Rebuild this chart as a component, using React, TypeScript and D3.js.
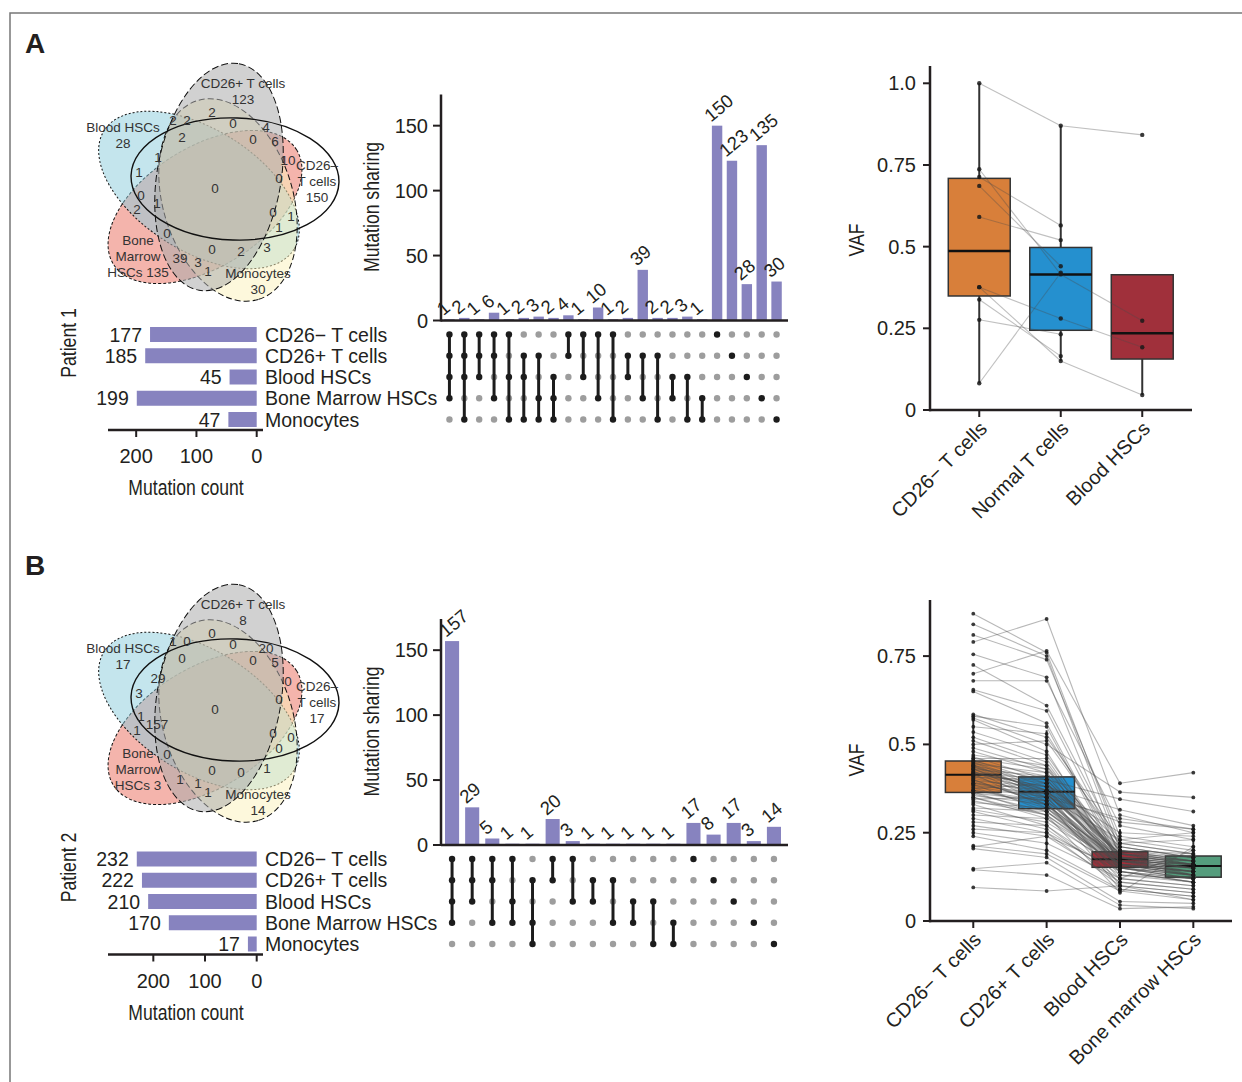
import React from "react";
import * as d3 from "d3";

// ---- data ----
const setNames = ["CD26− T cells", "CD26+ T cells", "Blood HSCs", "Bone Marrow HSCs", "Monocytes"];

const p1SetSizes = [177, 185, 45, 199, 47];
const p2SetSizes = [232, 222, 210, 170, 17];

const p1Combos = [
  [0, 1, 2, 3], [0, 1, 2, 4], [0, 1, 2], [0, 1, 3], [0, 2, 4], [1, 2, 4], [1, 3, 4], [2, 3, 4],
  [0, 1], [0, 2], [0, 3], [0, 4], [1, 2], [1, 3], [1, 4], [2, 3], [2, 4], [3, 4],
  [0], [1], [2], [3], [4],
];
const p1ComboCounts = [1, 2, 1, 6, 1, 2, 3, 2, 4, 1, 10, 1, 2, 39, 2, 2, 3, 1, 150, 123, 28, 135, 30];

const p2Combos = [
  [0, 1, 2, 3], [0, 1, 2], [0, 1, 3], [0, 2, 3], [1, 3, 4],
  [0, 1], [0, 2], [1, 2], [1, 3], [2, 3], [2, 4], [3, 4],
  [0], [1], [2], [3], [4],
];
const p2ComboCounts = [157, 29, 5, 1, 1, 20, 3, 1, 1, 1, 1, 1, 17, 8, 17, 3, 14];

// venn region counts (same region order for both patients)
const p1VennRegions = [2, 2, 2, 0, 4, 2, 0, 6, 10, 1, 1, 0, 0, 0, 1, 2, 0, 1, 1, 0, 0, 2, 3, 39, 3, 1];
const p2VennRegions = [0, 1, 0, 0, 20, 0, 0, 5, 0, 29, 3, 0, 0, 1, 157, 1, 0, 0, 0, 0, 0, 0, 1, 1, 1, 1];
const p1VennUnique = [150, 123, 28, 135, 30];
const p2VennUnique = [17, 8, 17, 3, 14];

// VAF, patient 1 (one entry per mutation, null = not detected)
const p1Groups = ["CD26− T cells", "Normal T cells", "Blood HSCs"];
const p1CD26neg = [1.0, 0.737, 0.713, 0.686, 0.591, 0.376, 0.376, 0.338, 0.276, 0.082];
const p1Normal = [0.87, 0.415, 0.565, 0.44, 0.52, 0.28, 0.15, 0.165, 0.232, 0.42];
const p1Blood = [0.842, 0.273, null, null, null, 0.192, 0.046, null, null, null];
const p1Q1 = [0.349, 0.244, 0.156];
const p1Median = [0.487, 0.415, 0.235];
const p1Q3 = [0.709, 0.4975, 0.414];
const p1WhiskLo = [0.082, 0.15, 0.046];
const p1WhiskHi = [1.0, 0.87, 0.414];
const p1Ticks = [0, 0.25, 0.5, 0.75, 1];
const p1TickLabels = ["0", "0.25", "0.5", "0.75", "1.0"];

// VAF, patient 2
const p2Groups = ["CD26− T cells", "CD26+ T cells", "Blood HSCs", "Bone marrow HSCs"];
const p2CD26neg = [
  0.87, 0.84, 0.81, 0.79, 0.755, 0.725, 0.70, 0.68, 0.655, 0.65,
  0.585, 0.58, 0.575, 0.57, 0.55, 0.535, 0.52, 0.51, 0.50, 0.49,
  0.48, 0.47, 0.465, 0.46, 0.455, 0.452, 0.45, 0.448, 0.445, 0.443,
  0.44, 0.438, 0.435, 0.432, 0.43, 0.428, 0.425, 0.423, 0.42, 0.418,
  0.416, 0.415, 0.412, 0.41, 0.407, 0.404, 0.40, 0.397, 0.394, 0.39,
  0.387, 0.384, 0.38, 0.377, 0.374, 0.37, 0.368, 0.365, 0.362, 0.36,
  0.355, 0.35, 0.345, 0.34, 0.335, 0.33, 0.32, 0.315, 0.31, 0.30,
  0.29, 0.28, 0.27, 0.26, 0.25, 0.24, 0.213, 0.21, 0.205, 0.148,
  0.145, 0.095, 0.44, 0.42, 0.39, 0.46, 0.37, 0.43, 0.40, 0.35,
];
const p2CD26pos = [
  0.76, 0.75, 0.74, 0.855, 0.69, 0.61, 0.765, 0.68, 0.595, 0.56,
  0.52, 0.55, 0.50, 0.48, 0.53, 0.47, 0.45, 0.44, 0.51, 0.43,
  0.42, 0.44, 0.40, 0.46, 0.39, 0.41, 0.38, 0.37, 0.42, 0.36,
  0.40, 0.35, 0.39, 0.34, 0.41, 0.37, 0.33, 0.36, 0.40, 0.38,
  0.32, 0.39, 0.37, 0.35, 0.40, 0.36, 0.33, 0.38, 0.34, 0.37,
  0.31, 0.36, 0.35, 0.32, 0.39, 0.33, 0.36, 0.30, 0.34, 0.31,
  0.33, 0.29, 0.35, 0.30, 0.32, 0.27, 0.31, 0.28, 0.26, 0.29,
  0.25, 0.27, 0.24, 0.25, 0.22, 0.20, 0.19, 0.24, 0.18, 0.165,
  0.13, 0.085, 0.36, 0.38, 0.35, 0.43, 0.34, 0.37, 0.33, 0.30,
];
const p2Blood = [
  0.22, 0.20, 0.24, 0.30, 0.18, 0.21, 0.39, 0.27, 0.19, 0.17,
  0.23, 0.16, 0.365, 0.15, 0.2, 0.18, 0.17, 0.14, 0.22, 0.18,
  0.16, 0.2, 0.19, 0.17, 0.15, 0.18, 0.19, 0.16, 0.21, 0.17,
  0.345, 0.15, 0.18, 0.16, 0.19, 0.2, 0.14, 0.17, 0.18, 0.15,
  0.16, 0.19, 0.17, 0.13, 0.2, 0.18, 0.16, 0.315, 0.17, 0.19,
  0.15, 0.18, 0.16, 0.14, 0.21, 0.17, 0.19, 0.15, 0.18, 0.16,
  0.17, 0.14, 0.29, 0.16, 0.18, 0.13, 0.17, 0.15, 0.12, 0.16,
  0.14, 0.11, 0.15, 0.10, 0.12, 0.09, 0.085, 0.11, 0.055, 0.045,
  0.035, 0.10, 0.28, 0.25, 0.23, 0.22, 0.09, 0.10, 0.12, 0.08,
];
const p2Marrow = [
  0.19, 0.17, 0.21, 0.25, 0.16, 0.18, 0.42, 0.23, 0.17, 0.14,
  0.2, 0.13, 0.35, 0.12, 0.16, 0.15, 0.16, 0.11, 0.19, 0.17,
  0.14, 0.18, 0.16, 0.15, 0.13, 0.16, 0.17, 0.15, 0.18, 0.14,
  0.31, 0.16, 0.13, 0.15, 0.17, 0.19, 0.12, 0.16, 0.15, 0.14,
  0.13, 0.18, 0.16, 0.12, 0.17, 0.15, 0.14, 0.27, 0.13, 0.16,
  0.12, 0.17, 0.14, 0.11, 0.18, 0.15, 0.16, 0.13, 0.16, 0.14,
  0.15, 0.12, 0.26, 0.13, 0.16, 0.11, 0.15, 0.12, 0.10, 0.14,
  0.11, 0.09, 0.13, 0.08, 0.10, 0.07, 0.06, 0.09, 0.05, 0.035,
  0.04, 0.06, 0.26, 0.24, 0.25, 0.23, 0.07, 0.08, 0.2, 0.21,
];
const p2Q1 = [0.364, 0.318, 0.152, 0.124];
const p2Median = [0.414, 0.366, 0.175, 0.156];
const p2Q3 = [0.453, 0.408, 0.196, 0.184];
const p2WhiskLo = [0.24, 0.18, 0.09, 0.04];
const p2WhiskHi = [0.585, 0.54, 0.26, 0.27];
const p2Ticks = [0, 0.25, 0.5, 0.75];
const p2TickLabels = ["0", "0.25", "0.5", "0.75"];

// ---- styling / layout ----
const FONT = "'Liberation Sans', Arial, Helvetica, sans-serif";
const INK = "#231f20";
const BAR = "#8783bf";
const BOX_COLORS = ["#d87f3a", "#2590cf", "#a0303b", "#559d7d"];

// ellipses: CD26-, CD26+, Blood, BM, Mono
const VENN_SHAPES = [
  { cx: 235, cy: 179, rx: 104, ry: 61, rot: 2, fill: "none", op: 0, dash: "", sw: 1.4 },
  { cx: 219, cy: 177, rx: 115, ry: 62, rot: -80, fill: "#ababab", op: 0.55, dash: "7,3", sw: 1 },
  { cx: 199, cy: 190, rx: 112, ry: 61, rot: 32, fill: "#89cbdb", op: 0.5, dash: "2,2", sw: 1 },
  { cx: 205, cy: 207, rx: 108, ry: 60, rot: -32, fill: "#ea6a5a", op: 0.5, dash: "3,2", sw: 1 },
  { cx: 228, cy: 200, rx: 104, ry: 65, rot: 73, fill: "#fbf1b9", op: 0.5, dash: "6,3", sw: 1 },
];
const VENN_DRAW_ORDER = [3, 2, 4, 1, 0];
const VENN_REGION_POS = [
  [212, 112], [173, 120], [187, 120], [233, 123], [266, 127], [182, 137], [253, 139], [275, 141],
  [288, 160], [158, 157], [139, 172], [279, 178], [215, 188], [141, 195], [157, 203], [137, 209],
  [273, 212], [291, 216], [279, 227], [167, 233], [212, 249], [241, 251], [267, 247], [180, 258],
  [198, 262], [208, 271],
];

function Cond({ x, y, rot = 0, size = 20, children }: any) {
  return (
    <text
      transform={`translate(${x},${y}) rotate(${rot}) scale(0.8,1)`}
      fontSize={size}
      textAnchor="middle"
      fill={INK}
    >
      {children}
    </text>
  );
}

function Venn({ oy, regions, unique, bmShift }: any) {
  const setLabels = [
    { lines: ["CD26–", "T cells", String(unique[0])], x: 317, y: 165 },
    { lines: ["CD26+ T cells", String(unique[1])], x: 243, y: 83 },
    { lines: ["Blood HSCs", String(unique[2])], x: 123, y: 127 },
    { lines: ["Bone", "Marrow", `HSCs ${unique[3]}`], x: 138, y: 240 + bmShift },
    { lines: ["Monocytes", String(unique[4])], x: 258, y: 273 },
  ];
  return (
    <g transform={`translate(0,${oy})`}>
      {VENN_DRAW_ORDER.map((i) => {
        const e = VENN_SHAPES[i];
        return (
          <ellipse
            key={i}
            cx={0}
            cy={0}
            rx={e.rx}
            ry={e.ry}
            transform={`translate(${e.cx},${e.cy}) rotate(${e.rot})`}
            fill={e.fill}
            fillOpacity={e.op}
            stroke="#111"
            strokeWidth={e.sw}
            strokeDasharray={e.dash || undefined}
          />
        );
      })}
      {regions.map((v: number, i: number) => (
        <text
          key={i}
          x={VENN_REGION_POS[i][0]}
          y={VENN_REGION_POS[i][1]}
          fontSize={13.5}
          textAnchor="middle"
          dominantBaseline="central"
          fill="#333"
        >
          {v}
        </text>
      ))}
      {setLabels.map((s, i) =>
        s.lines.map((t, j) => (
          <text
            key={`${i}-${j}`}
            x={s.x}
            y={s.y + j * 16}
            fontSize={13.5}
            textAnchor="middle"
            dominantBaseline="central"
            fill="#333"
          >
            {t}
          </text>
        ))
      )}
    </g>
  );
}

function UpSet({ oy, combos, counts, sizes, patient }: any) {
  const x = d3
    .scaleBand<number>()
    .domain(d3.range(counts.length))
    .range([442, 784])
    .paddingInner(0.3)
    .paddingOuter(0.15);
  const y = d3.scaleLinear().domain([0, 174]).range([320.5 + oy, 94.5 + oy]);
  const row = d3.scalePoint<number>().domain(d3.range(5)).range([334.5 + oy, 419.5 + oy]);
  const xs = d3
    .scaleLinear()
    .domain([0, (d3.max(sizes) as number) * 1.24])
    .range([256.7, 108]);
  const base = y(0);
  const axisY = 430 + oy;
  return (
    <g>
      {/* intersection bars */}
      {counts.map((v: number, i: number) => (
        <rect key={i} x={x(i)} y={y(v)} width={x.bandwidth()} height={base - y(v)} fill={BAR} />
      ))}
      {counts.map((v: number, i: number) => (
        <text
          key={i}
          transform={`translate(${(x(i) as number) + x.bandwidth() / 2 - 6},${y(v) - 3}) rotate(-40)`}
          fontSize={18.5}
          fill={INK}
        >
          {v}
        </text>
      ))}
      <line x1={441} x2={788} y1={base} y2={base} stroke={INK} strokeWidth={2.5} />
      <line x1={441} x2={441} y1={94.5 + oy} y2={base + 1} stroke={INK} strokeWidth={2.5} />
      {y.ticks(4).map((t) => (
        <g key={t}>
          <line x1={433} x2={441} y1={y(t)} y2={y(t)} stroke={INK} strokeWidth={2} />
          <text x={428} y={y(t)} fontSize={20} textAnchor="end" dominantBaseline="central" fill={INK}>
            {t}
          </text>
        </g>
      ))}
      <Cond x={379} y={207 + oy} rot={-90} size={22}>
        Mutation sharing
      </Cond>

      {/* matrix */}
      {combos.map((c: number[], i: number) => {
        const cx = (x(i) as number) + x.bandwidth() / 2;
        return (
          <g key={i}>
            {d3.range(5).map((r) => (
              <circle key={r} cx={cx} cy={row(r)} r={3.2} fill={c.includes(r) ? "#1c1c1c" : "#9d9d9d"} />
            ))}
            {c.length > 1 && (
              <line
                x1={cx}
                x2={cx}
                y1={row(d3.min(c) as number)}
                y2={row(d3.max(c) as number)}
                stroke="#1c1c1c"
                strokeWidth={3}
              />
            )}
          </g>
        );
      })}

      {/* set size bars */}
      {sizes.map((v: number, i: number) => (
        <g key={i}>
          <rect x={xs(v)} y={(row(i) as number) - 7.5} width={xs(0) - xs(v)} height={15} fill={BAR} />
          <text x={xs(v) - 8} y={row(i)} fontSize={19.5} textAnchor="end" dominantBaseline="central" fill={INK}>
            {v}
          </text>
          <text x={265} y={row(i)} fontSize={19.5} dominantBaseline="central" fill={INK}>
            {setNames[i]}
          </text>
        </g>
      ))}
      <line x1={108} x2={263} y1={axisY} y2={axisY} stroke={INK} strokeWidth={2.5} />
      {xs.ticks(3).map((t) => (
        <g key={t}>
          <line x1={xs(t)} x2={xs(t)} y1={axisY} y2={axisY + 7} stroke={INK} strokeWidth={2} />
          <text x={xs(t)} y={axisY + 33} fontSize={20} textAnchor="middle" fill={INK}>
            {t}
          </text>
        </g>
      ))}
      <Cond x={186} y={axisY + 65} size={22}>
        Mutation count
      </Cond>
      <Cond x={76} y={343 + oy} rot={-90} size={22}>
        {patient}
      </Cond>
    </g>
  );
}

function BoxPanel({ groups, columns, q1, med, q3, lo, hi, ticks, tickLabels, xRange, y0, y1, axisTop, axisRight, boxMed, ptR, lineOp }: any) {
  const x = d3.scaleBand<string>().domain(groups).range(xRange);
  const y = d3.scaleLinear().domain([0, 1]).range([y0, y1]);
  const bw = x.bandwidth() * 0.76;
  const cx = (g: string) => (x(g) as number) + x.bandwidth() / 2;
  const n = columns[0].length;
  return (
    <g>
      {groups.map((g: string, i: number) => (
        <line key={g} x1={cx(g)} x2={cx(g)} y1={y(lo[i])} y2={y(hi[i])} stroke="#333" strokeWidth={2} />
      ))}
      {groups.map((g: string, i: number) => (
        <g key={g}>
          <rect
            x={cx(g) - bw / 2}
            y={y(q3[i])}
            width={bw}
            height={y(q1[i]) - y(q3[i])}
            fill={BOX_COLORS[i]}
            stroke="#333"
            strokeWidth={1.5}
          />
          <line x1={cx(g) - bw / 2} x2={cx(g) + bw / 2} y1={y(med[i])} y2={y(med[i])} stroke="#111" strokeWidth={boxMed} />
        </g>
      ))}
      {d3.range(n).map((k) =>
        groups.slice(0, -1).map((g: string, i: number) => {
          const a = columns[i][k];
          const b = columns[i + 1][k];
          if (a == null || b == null) return null;
          return (
            <line
              key={`${k}-${i}`}
              x1={cx(g)}
              x2={cx(groups[i + 1])}
              y1={y(a)}
              y2={y(b)}
              stroke="#4a4a4a"
              strokeOpacity={lineOp}
              strokeWidth={1.1}
            />
          );
        })
      )}
      {groups.map((g: string, i: number) =>
        columns[i].map((v: number | null, k: number) =>
          v == null ? null : <circle key={`${g}-${k}`} cx={cx(g)} cy={y(v)} r={ptR} fill="#1a1a1a" fillOpacity={0.85} />
        )
      )}
      <line x1={930} x2={930} y1={axisTop} y2={y0 + 1.2} stroke={INK} strokeWidth={2.5} />
      <line x1={929} x2={axisRight} y1={y0} y2={y0} stroke={INK} strokeWidth={2.5} />
      {ticks.map((t: number, i: number) => (
        <g key={t}>
          <line x1={923} x2={930} y1={y(t)} y2={y(t)} stroke={INK} strokeWidth={2} />
          <text x={916} y={y(t)} fontSize={20} textAnchor="end" dominantBaseline="central" fill={INK}>
            {tickLabels[i]}
          </text>
        </g>
      ))}
      {groups.map((g: string) => (
        <g key={g}>
          <line x1={cx(g)} x2={cx(g)} y1={y0} y2={y0 + 7} stroke={INK} strokeWidth={2} />
          <text
            transform={`translate(${cx(g) + 9},${y0 + 20}) rotate(-45)`}
            fontSize={20}
            textAnchor="end"
            fill={INK}
          >
            {g}
          </text>
        </g>
      ))}
    </g>
  );
}

export default function App() {
  return (
    <svg
      width={1242}
      height={1082}
      style={{ position: "absolute", left: 0, top: 0, display: "block" }}
      fontFamily={FONT}
    >
      <rect width={1242} height={1082} fill="#fff" />
      <path d="M10,1082 V13 H1242" fill="none" stroke="#777" strokeWidth={1.5} />
      <text x={25} y={53} fontSize={28} fontWeight="bold" fill={INK}>
        A
      </text>
      <text x={25} y={575} fontSize={28} fontWeight="bold" fill={INK}>
        B
      </text>

      <Venn oy={0} regions={p1VennRegions} unique={p1VennUnique} bmShift={0} />
      <Venn oy={521} regions={p2VennRegions} unique={p2VennUnique} bmShift={-8} />

      <UpSet oy={0} combos={p1Combos} counts={p1ComboCounts} sizes={p1SetSizes} patient="Patient 1" />
      <UpSet oy={524.5} combos={p2Combos} counts={p2ComboCounts} sizes={p2SetSizes} patient="Patient 2" />

      <BoxPanel
        groups={p1Groups}
        columns={[p1CD26neg, p1Normal, p1Blood]}
        q1={p1Q1}
        med={p1Median}
        q3={p1Q3}
        lo={p1WhiskLo}
        hi={p1WhiskHi}
        ticks={p1Ticks}
        tickLabels={p1TickLabels}
        xRange={[938.5, 1183]}
        y0={410}
        y1={83.3}
        axisTop={66}
        axisRight={1192}
        boxMed={2.5}
        ptR={2.2}
        lineOp={0.35}
      />
      <Cond x={864} y={240} rot={-90} size={22}>
        VAF
      </Cond>

      <BoxPanel
        groups={p2Groups}
        columns={[p2CD26neg, p2CD26pos, p2Blood, p2Marrow]}
        q1={p2Q1}
        med={p2Median}
        q3={p2Q3}
        lo={p2WhiskLo}
        hi={p2WhiskHi}
        ticks={p2Ticks}
        tickLabels={p2TickLabels}
        xRange={[936.6, 1230]}
        y0={921}
        y1={567.8}
        axisTop={600}
        axisRight={1232}
        boxMed={2}
        ptR={1.9}
        lineOp={0.4}
      />
      <Cond x={864} y={760} rot={-90} size={22}>
        VAF
      </Cond>
    </svg>
  );
}
